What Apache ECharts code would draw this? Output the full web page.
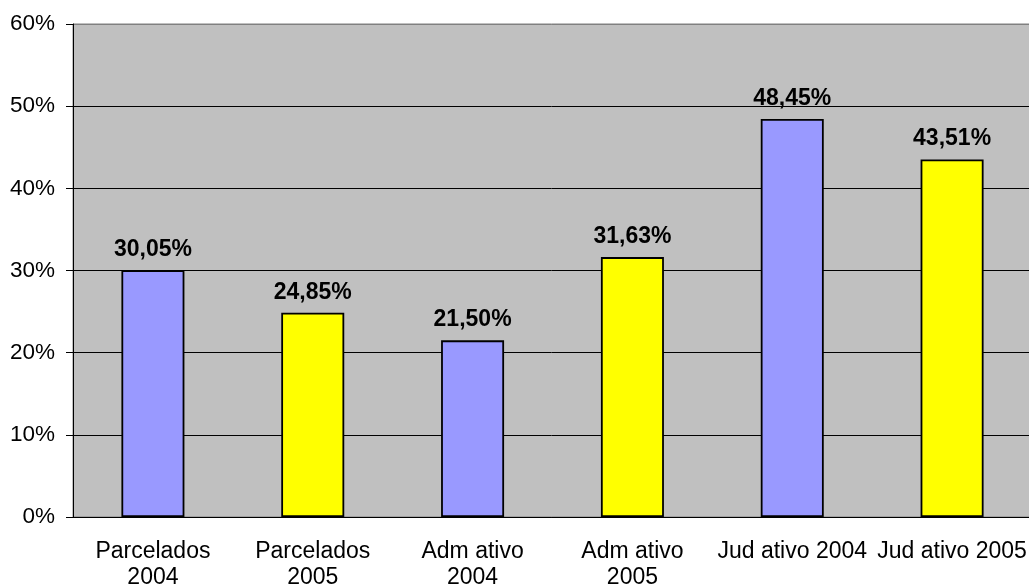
<!DOCTYPE html>
<html>
<head>
<meta charset="utf-8">
<script src="https://cdn.jsdelivr.net/npm/echarts@6/dist/echarts.min.js"></script>
<style>
  html, body { margin: 0; padding: 0; background: #ffffff; }
  #chart { width: 1029px; height: 588px; }
</style>
</head>
<body>
<div id="chart"></div>
<script>
// Categories, values (percent) and bar fill per category
const categories = ['Parcelados\n2004', 'Parcelados\n2005', 'Adm ativo\n2004', 'Adm ativo\n2005', 'Jud ativo 2004', 'Jud ativo 2005'];
const values = [30.05, 24.85, 21.50, 31.63, 48.45, 43.51];
const barColors = ['#9999FF', '#FFFF00', '#9999FF', '#FFFF00', '#9999FF', '#FFFF00'];
const yTicks = { min: 0, max: 60, interval: 10 };

const FONT = '"Liberation Sans", Arial, sans-serif';

const chart = echarts.init(document.getElementById('chart'), null, { renderer: 'canvas' });

chart.setOption({
  animation: false,
  grid: {
    left: 73, top: 24, width: 959, height: 493,
    outerBoundsMode: 'none',
    containLabel: false,
    show: true,
    backgroundColor: '#C0C0C0',
    borderColor: '#808080',
    borderWidth: 1
  },
  xAxis: {
    type: 'category',
    data: categories,
    axisLine: { lineStyle: { color: '#000000', width: 1 } },
    axisTick: { show: false },
    axisLabel: {
      color: '#000000',
      fontFamily: FONT,
      fontSize: 23,
      lineHeight: 26,
      margin: 22,
      interval: 0
    }
  },
  yAxis: {
    type: 'value',
    min: yTicks.min,
    max: yTicks.max,
    interval: yTicks.interval,
    axisLine: { show: true, lineStyle: { color: '#000000', width: 1 } },
    axisTick: { show: true, length: 7, lineStyle: { color: '#000000' } },
    // inner gridlines black, outer top edge in the frame's grey
    splitLine: {
      show: true,
      lineStyle: { color: ['#000000', '#000000', '#000000', '#000000', '#000000', '#000000', '#808080'], width: 1 }
    },
    axisLabel: {
      color: '#000000',
      fontFamily: FONT,
      fontSize: 22.5,
      margin: 18,
      formatter: '{value}%'
    }
  },
  series: [{
    type: 'bar',
    barWidth: 63,
    data: values.map((v, i) => ({
      value: v,
      itemStyle: { color: barColors[i] }
    })),
    itemStyle: { borderColor: '#000000', borderWidth: 1.8 },
    label: {
      show: true,
      position: 'top',
      distance: 9,
      color: '#000000',
      fontFamily: FONT,
      fontSize: 23,
      fontWeight: 'bold',
      formatter: p => p.value.toFixed(2).replace('.', ',') + '%'
    }
  }]
});
</script>
</body>
</html>
